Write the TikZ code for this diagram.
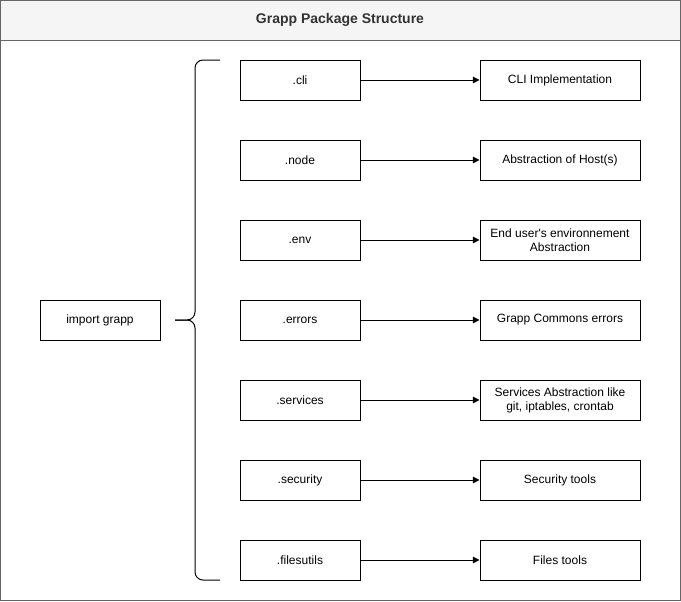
\documentclass[tikz,border=0pt]{standalone}
\usepackage{fontspec}
\setmainfont{Liberation Sans}
\usepackage{tikz}
\usetikzlibrary{arrows.meta,positioning}

\definecolor{titlefill}{HTML}{F5F5F5}
\definecolor{titleline}{HTML}{666666}
\definecolor{titletext}{HTML}{333333}

\begin{document}
\begin{tikzpicture}[x = 0.75pt, y = -0.75pt, line width = 0.75pt,
    box/.style = {draw, rectangle, minimum width = 90pt, minimum height = 30pt,
                  inner sep = 1pt, align = center, font = \fontsize{9pt}{10.5pt}\selectfont},
    link/.style = {-{Triangle[length = 5pt, width = 5pt]}}]
      \useasboundingbox (0, 0) rectangle (681, 601);

      % frame and title
      \draw[titleline] (0.5, 0.5) rectangle (680.5, 600.5);
      \draw[titleline, fill = titlefill] (0.5, 0.5) rectangle (680.5, 40);
      \node[font = \fontsize{10.5pt}{12pt}\selectfont\bfseries, text = titletext] at (340, 20) (title) {Grapp Package Structure};

      \node[box] at (100, 320) (grapp) {import grapp};

      % brace
      \coordinate (tip) at (175, 320);
      \draw[rounded corners = 6pt] (220, 60) -- (195, 60) -- (195, 320) -- (tip);
      \draw[rounded corners = 6pt] (220, 580) -- (195, 580) -- (195, 320) -- (tip);

      % modules
      \node[box] at (300,  80) (cli)       {.cli};
      \node[box] at (300, 160) (node)      {.node};
      \node[box] at (300, 240) (env)       {.env};
      \node[box] at (300, 320) (errors)    {.errors};
      \node[box] at (300, 400) (services)  {.services};
      \node[box] at (300, 480) (security)  {.security};
      \node[box] at (300, 560) (filesutils) {.filesutils};

      % descriptions
      \node[box, minimum width = 120pt] at (560,  80) (clidesc)      {CLI Implementation};
      \node[box, minimum width = 120pt] at (560, 160) (nodedesc)     {Abstraction of Host(s)};
      \node[box, minimum width = 120pt] at (560, 240) (envdesc)      {End user\textquotesingle s environnement\\Abstraction};
      \node[box, minimum width = 120pt] at (560, 320) (errorsdesc)   {Grapp Commons errors};
      \node[box, minimum width = 120pt] at (560, 400) (servicesdesc) {Services Abstraction like\\git, iptables, crontab};
      \node[box, minimum width = 120pt] at (560, 480) (securitydesc) {Security tools};
      \node[box, minimum width = 120pt] at (560, 560) (filesdesc)    {Files tools};

      \draw[link] (cli) -- (clidesc);
      \draw[link] (node) -- (nodedesc);
      \draw[link] (env) -- (envdesc);
      \draw[link] (errors) -- (errorsdesc);
      \draw[link] (services) -- (servicesdesc);
      \draw[link] (security) -- (securitydesc);
      \draw[link] (filesutils) -- (filesdesc);
    \end{tikzpicture}
\end{document}
